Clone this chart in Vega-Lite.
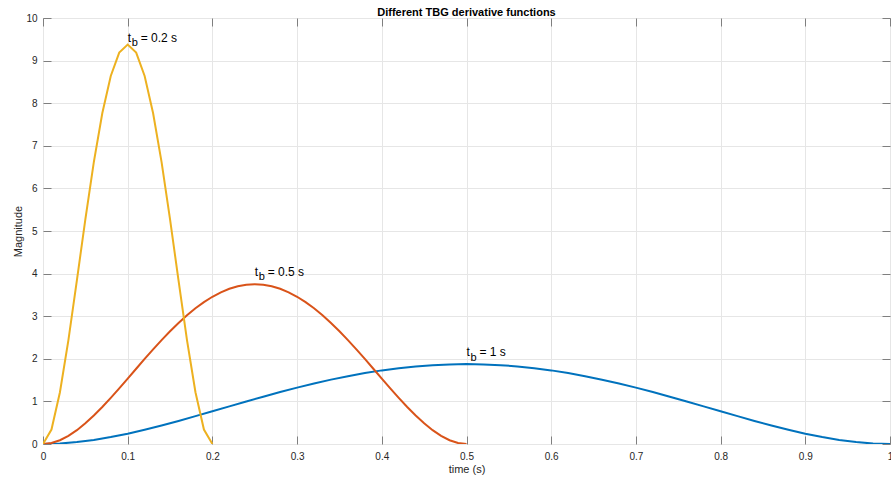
{
  "$schema": "https://vega.github.io/schema/vega-lite/v6.json",
  "autosize": "none",
  "width": 847,
  "height": 426,
  "padding": {"left": 43, "top": 18, "right": 1, "bottom": 38},
  "background": "white",
  "config": {
    "view": {"stroke": "#7f7f7f", "strokeWidth": 1},
    "font": "Liberation Sans",
    "axis": {
      "labelFont": "Liberation Sans",
      "titleFont": "Liberation Sans",
      "labelFontSize": 10,
      "titleFontSize": 11,
      "titleFontWeight": "normal",
      "labelColor": "#262626",
      "titleColor": "#262626",
      "tickColor": "#7f7f7f",
      "gridColor": "#e6e6e6",
      "domain": false
    }
  },
  "title": {
    "text": "Different TBG derivative functions",
    "font": "Liberation Sans",
    "fontSize": 11,
    "fontWeight": "bold",
    "color": "#000000",
    "offset": -5
  },
  "datasets": {
    "curves": [
      {"t": 0, "y": 0, "tb": "1"},
      {"t": 0.02, "y": 0.01152, "tb": "1"},
      {"t": 0.04, "y": 0.04424, "tb": "1"},
      {"t": 0.06, "y": 0.09543, "tb": "1"},
      {"t": 0.08, "y": 0.16251, "tb": "1"},
      {"t": 0.1, "y": 0.243, "tb": "1"},
      {"t": 0.12, "y": 0.33454, "tb": "1"},
      {"t": 0.14, "y": 0.43489, "tb": "1"},
      {"t": 0.16, "y": 0.5419, "tb": "1"},
      {"t": 0.18, "y": 0.65357, "tb": "1"},
      {"t": 0.2, "y": 0.768, "tb": "1"},
      {"t": 0.22, "y": 0.8834, "tb": "1"},
      {"t": 0.24, "y": 0.9981, "tb": "1"},
      {"t": 0.26, "y": 1.11053, "tb": "1"},
      {"t": 0.28, "y": 1.21928, "tb": "1"},
      {"t": 0.3, "y": 1.323, "tb": "1"},
      {"t": 0.32, "y": 1.4205, "tb": "1"},
      {"t": 0.34, "y": 1.51066, "tb": "1"},
      {"t": 0.36, "y": 1.59253, "tb": "1"},
      {"t": 0.38, "y": 1.66522, "tb": "1"},
      {"t": 0.4, "y": 1.728, "tb": "1"},
      {"t": 0.42, "y": 1.78023, "tb": "1"},
      {"t": 0.44, "y": 1.82139, "tb": "1"},
      {"t": 0.46, "y": 1.85108, "tb": "1"},
      {"t": 0.48, "y": 1.86901, "tb": "1"},
      {"t": 0.5, "y": 1.875, "tb": "1"},
      {"t": 0.52, "y": 1.86901, "tb": "1"},
      {"t": 0.54, "y": 1.85108, "tb": "1"},
      {"t": 0.56, "y": 1.82139, "tb": "1"},
      {"t": 0.58, "y": 1.78023, "tb": "1"},
      {"t": 0.6, "y": 1.728, "tb": "1"},
      {"t": 0.62, "y": 1.66522, "tb": "1"},
      {"t": 0.64, "y": 1.59253, "tb": "1"},
      {"t": 0.66, "y": 1.51066, "tb": "1"},
      {"t": 0.68, "y": 1.4205, "tb": "1"},
      {"t": 0.7, "y": 1.323, "tb": "1"},
      {"t": 0.72, "y": 1.21928, "tb": "1"},
      {"t": 0.74, "y": 1.11053, "tb": "1"},
      {"t": 0.76, "y": 0.9981, "tb": "1"},
      {"t": 0.78, "y": 0.8834, "tb": "1"},
      {"t": 0.8, "y": 0.768, "tb": "1"},
      {"t": 0.82, "y": 0.65357, "tb": "1"},
      {"t": 0.84, "y": 0.5419, "tb": "1"},
      {"t": 0.86, "y": 0.43489, "tb": "1"},
      {"t": 0.88, "y": 0.33454, "tb": "1"},
      {"t": 0.9, "y": 0.243, "tb": "1"},
      {"t": 0.92, "y": 0.16251, "tb": "1"},
      {"t": 0.94, "y": 0.09543, "tb": "1"},
      {"t": 0.96, "y": 0.04424, "tb": "1"},
      {"t": 0.98, "y": 0.01152, "tb": "1"},
      {"t": 1.0, "y": 0, "tb": "1"},
      {"t": 0, "y": 0, "tb": "0.5"},
      {"t": 0.01, "y": 0.02305, "tb": "0.5"},
      {"t": 0.02, "y": 0.08847, "tb": "0.5"},
      {"t": 0.03, "y": 0.19086, "tb": "0.5"},
      {"t": 0.04, "y": 0.32502, "tb": "0.5"},
      {"t": 0.05, "y": 0.486, "tb": "0.5"},
      {"t": 0.06, "y": 0.66908, "tb": "0.5"},
      {"t": 0.07, "y": 0.86977, "tb": "0.5"},
      {"t": 0.08, "y": 1.0838, "tb": "0.5"},
      {"t": 0.09, "y": 1.30715, "tb": "0.5"},
      {"t": 0.1, "y": 1.536, "tb": "0.5"},
      {"t": 0.11, "y": 1.76679, "tb": "0.5"},
      {"t": 0.12, "y": 1.99619, "tb": "0.5"},
      {"t": 0.13, "y": 2.22107, "tb": "0.5"},
      {"t": 0.14, "y": 2.43855, "tb": "0.5"},
      {"t": 0.15, "y": 2.646, "tb": "0.5"},
      {"t": 0.16, "y": 2.84099, "tb": "0.5"},
      {"t": 0.17, "y": 3.02132, "tb": "0.5"},
      {"t": 0.18, "y": 3.18505, "tb": "0.5"},
      {"t": 0.19, "y": 3.33044, "tb": "0.5"},
      {"t": 0.2, "y": 3.456, "tb": "0.5"},
      {"t": 0.21, "y": 3.56046, "tb": "0.5"},
      {"t": 0.22, "y": 3.64278, "tb": "0.5"},
      {"t": 0.23, "y": 3.70215, "tb": "0.5"},
      {"t": 0.24, "y": 3.73801, "tb": "0.5"},
      {"t": 0.25, "y": 3.75, "tb": "0.5"},
      {"t": 0.26, "y": 3.73801, "tb": "0.5"},
      {"t": 0.27, "y": 3.70215, "tb": "0.5"},
      {"t": 0.28, "y": 3.64278, "tb": "0.5"},
      {"t": 0.29, "y": 3.56046, "tb": "0.5"},
      {"t": 0.3, "y": 3.456, "tb": "0.5"},
      {"t": 0.31, "y": 3.33044, "tb": "0.5"},
      {"t": 0.32, "y": 3.18505, "tb": "0.5"},
      {"t": 0.33, "y": 3.02132, "tb": "0.5"},
      {"t": 0.34, "y": 2.84099, "tb": "0.5"},
      {"t": 0.35, "y": 2.646, "tb": "0.5"},
      {"t": 0.36, "y": 2.43855, "tb": "0.5"},
      {"t": 0.37, "y": 2.22107, "tb": "0.5"},
      {"t": 0.38, "y": 1.99619, "tb": "0.5"},
      {"t": 0.39, "y": 1.76679, "tb": "0.5"},
      {"t": 0.4, "y": 1.536, "tb": "0.5"},
      {"t": 0.41, "y": 1.30715, "tb": "0.5"},
      {"t": 0.42, "y": 1.0838, "tb": "0.5"},
      {"t": 0.43, "y": 0.86977, "tb": "0.5"},
      {"t": 0.44, "y": 0.66908, "tb": "0.5"},
      {"t": 0.45, "y": 0.486, "tb": "0.5"},
      {"t": 0.46, "y": 0.32502, "tb": "0.5"},
      {"t": 0.47, "y": 0.19086, "tb": "0.5"},
      {"t": 0.48, "y": 0.08847, "tb": "0.5"},
      {"t": 0.49, "y": 0.02305, "tb": "0.5"},
      {"t": 0.5, "y": 0, "tb": "0.5"},
      {"t": 0, "y": 0, "tb": "0.2"},
      {"t": 0.01, "y": 0.3384, "tb": "0.2"},
      {"t": 0.02, "y": 1.215, "tb": "0.2"},
      {"t": 0.03, "y": 2.4384, "tb": "0.2"},
      {"t": 0.04, "y": 3.84, "tb": "0.2"},
      {"t": 0.05, "y": 5.2734, "tb": "0.2"},
      {"t": 0.06, "y": 6.615, "tb": "0.2"},
      {"t": 0.07, "y": 7.7634, "tb": "0.2"},
      {"t": 0.08, "y": 8.64, "tb": "0.2"},
      {"t": 0.09, "y": 9.1884, "tb": "0.2"},
      {"t": 0.1, "y": 9.375, "tb": "0.2"},
      {"t": 0.11, "y": 9.1884, "tb": "0.2"},
      {"t": 0.12, "y": 8.64, "tb": "0.2"},
      {"t": 0.13, "y": 7.7634, "tb": "0.2"},
      {"t": 0.14, "y": 6.615, "tb": "0.2"},
      {"t": 0.15, "y": 5.2734, "tb": "0.2"},
      {"t": 0.16, "y": 3.84, "tb": "0.2"},
      {"t": 0.17, "y": 2.4384, "tb": "0.2"},
      {"t": 0.18, "y": 1.215, "tb": "0.2"},
      {"t": 0.19, "y": 0.3384, "tb": "0.2"},
      {"t": 0.2, "y": 0, "tb": "0.2"}
    ],
    "labels": [
      {"x": 0.1, "y": 9.44, "rest": "= 0.2 s"},
      {"x": 0.25, "y": 3.95, "rest": "= 0.5 s"},
      {"x": 0.5, "y": 2.06, "rest": "= 1 s"}
    ]
  },
  "layer": [
    {
      "data": {"name": "curves"},
      "mark": {"type": "line", "strokeWidth": 2, "clip": true},
      "encoding": {
        "x": {
          "field": "t", "type": "quantitative",
          "scale": {"domain": [0, 1], "nice": false, "zero": false},
          "axis": {"title": "time (s)", "values": [0, 0.1, 0.2, 0.3, 0.4, 0.5, 0.6, 0.7, 0.8, 0.9, 1], "format": "~g", "grid": true, "tickSize": -8, "labelPadding": 15, "titlePadding": 2, "labelFlush": false}
        },
        "y": {
          "field": "y", "type": "quantitative",
          "scale": {"domain": [0, 10], "nice": false, "zero": false},
          "axis": {"title": "Magnitude", "values": [0, 1, 2, 3, 4, 5, 6, 7, 8, 9, 10], "grid": true, "tickSize": -8, "labelPadding": 14, "titlePadding": 2, "labelFlush": false}
        },
        "color": {
          "field": "tb", "type": "nominal",
          "scale": {"domain": ["1", "0.5", "0.2"], "range": ["#0072BD", "#D95319", "#EDB120"]},
          "legend": null
        }
      }
    },
    {
      "data": {"name": "labels"},
      "mark": {"type": "text", "align": "left", "baseline": "alphabetic", "fontSize": 12, "font": "Liberation Sans", "color": "#000000"},
      "encoding": {
        "x": {"field": "x", "type": "quantitative", "scale": {"domain": [0, 1]}, "axis": {"orient": "top", "labels": false, "title": null, "grid": false, "tickSize": -8, "values": [0, 0.1, 0.2, 0.3, 0.4, 0.5, 0.6, 0.7, 0.8, 0.9, 1]}},
        "y": {"field": "y", "type": "quantitative", "scale": {"domain": [0, 10]}, "axis": {"orient": "right", "labels": false, "title": null, "grid": false, "tickSize": -8, "values": [0, 1, 2, 3, 4, 5, 6, 7, 8, 9, 10]}},
        "text": {"value": "t"}
      }
    },
    {
      "data": {"name": "labels"},
      "mark": {"type": "text", "align": "left", "baseline": "alphabetic", "fontSize": 11, "font": "Liberation Sans", "color": "#000000", "dx": 4, "dy": 4.5},
      "encoding": {
        "x": {"field": "x", "type": "quantitative", "axis": null},
        "y": {"field": "y", "type": "quantitative", "axis": null},
        "text": {"value": "b"}
      }
    },
    {
      "data": {"name": "labels"},
      "mark": {"type": "text", "align": "left", "baseline": "alphabetic", "fontSize": 12, "font": "Liberation Sans", "color": "#000000", "dx": 13},
      "encoding": {
        "x": {"field": "x", "type": "quantitative", "axis": null},
        "y": {"field": "y", "type": "quantitative", "axis": null},
        "text": {"field": "rest", "type": "nominal"}
      }
    }
  ],
  "resolve": {"axis": {"x": "independent", "y": "independent"}}
}
